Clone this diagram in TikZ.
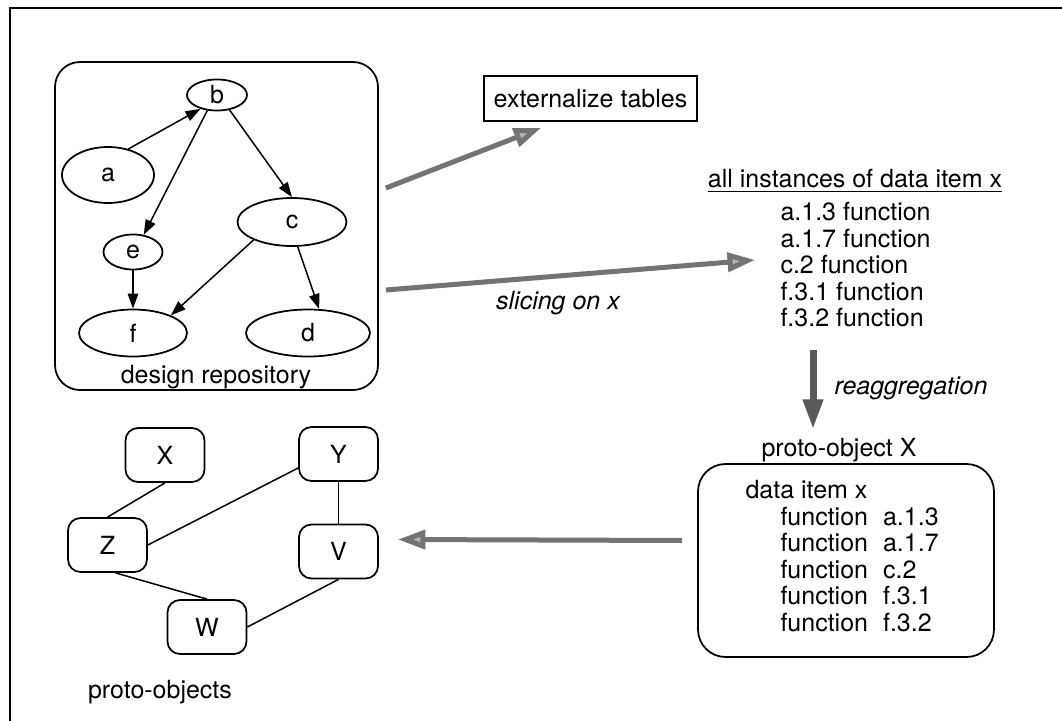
\documentclass[tikz,border=0pt]{standalone}
\usepackage{fontspec}
\setmainfont{TeX Gyre Heros}
\usetikzlibrary{shapes,arrows.meta,positioning,calc}

\tikzset{
  item/.style={ellipse, draw, line width=0.7pt, inner sep=0pt},
  link/.style={line width=0.6pt, -{Triangle[length=6pt,width=4.2pt]}},
  proto/.style={draw, rounded corners=5pt, line width=0.7pt, minimum width=31.6pt, minimum height=21.6pt},
  flow/.style={line width=2pt, draw=black!55, -{Triangle[length=11pt,width=7.5pt,fill=black!30]}},
}

\begin{document}
\begin{tikzpicture}[x=0.4pt, y=-0.4pt, font=\fontsize{10pt}{10.6pt}\selectfont]
            \useasboundingbox (0,0) rectangle (1062,721);
            \draw[line width=0.8pt] (1062,8) -- (10,8) -- (10,721);

            % design repository
            \node[draw, rounded corners=10pt, line width=0.7pt, minimum width=129.2pt, minimum height=131.2pt] (repo) at (216.5,226) {};
            \node (repolbl) at (216,377) {design repository};
            \node[item, minimum width=36.8pt, minimum height=22.4pt] (a) at (108,175) {a};
            \node[item, minimum width=24pt, minimum height=12.4pt] (b) at (217,95) {b};
            \node[item, minimum width=43.6pt, minimum height=19.2pt] (c) at (292,222) {c};
            \node[item, minimum width=23.6pt, minimum height=14pt] (e) at (133,252) {e};
            \node[item, minimum width=43.2pt, minimum height=18.8pt] (f) at (133,333) {f};
            \node[item, minimum width=49.6pt, minimum height=18.8pt] (d) at (308,333) {d};
            \draw[link] (a.52) -- (b.220);
            \draw[link] (b.238) -- (e.58);
            \draw[link] (b.-50) -- (c.north);
            \draw[link] (e.south) -- (f.north);
            \draw[link] (c.205) -- (f.25);
            \draw[link] (c.-77) -- (d.65);

            % externalize / slicing
            \node[draw, line width=0.6pt, minimum width=85.2pt, minimum height=18pt] (ext) at (590.5,98.5) {externalize tables};
            \node (allx) at (855,181) {\underline{all instances of data item x}};
            \node[align=left, anchor=west, inner sep=0pt] (inst) at (780,265) {a.1.3 function\\a.1.7 function\\c.2 function\\f.3.1 function\\f.3.2 function};
            \draw[flow] ($(repo.east)+(7,-38)$) -- ($(ext.south west)+(58,6)$);
            \draw[flow] ($(repo.east)+(7,64)$) -- ($(inst.west)+(-25,-5)$);
            \node (slice) at (558,303) {\itshape slicing on x};

            % reaggregation
            \node (protox) at (839,450) {proto-object X};
            \coordinate (r1) at (813,350);
            \draw[flow, line width=2.8pt, draw=black!65, -{Triangle[length=12pt,width=7.6pt,fill=black!35]}] (r1) -- (r1 |- protox.north);
            \node (reagg) at (911,388) {\itshape reaggregation};
            \node[draw, rounded corners=11pt, line width=0.7pt, minimum width=118.4pt, minimum height=77.2pt] (pbox) at (846,560.5) {};
            \node[anchor=west, inner sep=0pt] (ditem) at (745,490) {data item x};
            \node[anchor=north west, inner sep=0pt] (funcs) at (780,506) {\begin{tabular}{@{}l@{\hspace{6pt}}l@{}}
              function & a.1.3\\ function & a.1.7\\ function & c.2\\ function & f.3.1\\ function & f.3.2
            \end{tabular}};

            % proto-objects
            \node[proto] (X) at (165,455) {X};
            \node[proto] (Y) at (338.5,454) {Y};
            \node[proto] (Z) at (107.5,545) {Z};
            \node[proto] (V) at (338.5,551.5) {V};
            \node[proto] (W) at (207,627) {W};
            \node (protolbl) at (160,692) {proto-objects};
            \draw[line width=0.6pt] (X.south) -- (Z.north);
            \draw[line width=0.6pt] ($(Y.west)+(0,14)$) -- (Z.east);
            \draw[line width=0.6pt] (Y.south) -- (V.north);
            \draw[line width=0.6pt] ($(Z.south)+(8,0)$) -- (W.north);
            \draw[line width=0.6pt] (V.south) -- (W.east);
            \draw[flow] ($(pbox.west)+(-15,-20)$) -- ($(V.east)+(19,-12)$);
        \end{tikzpicture}
\end{document}
